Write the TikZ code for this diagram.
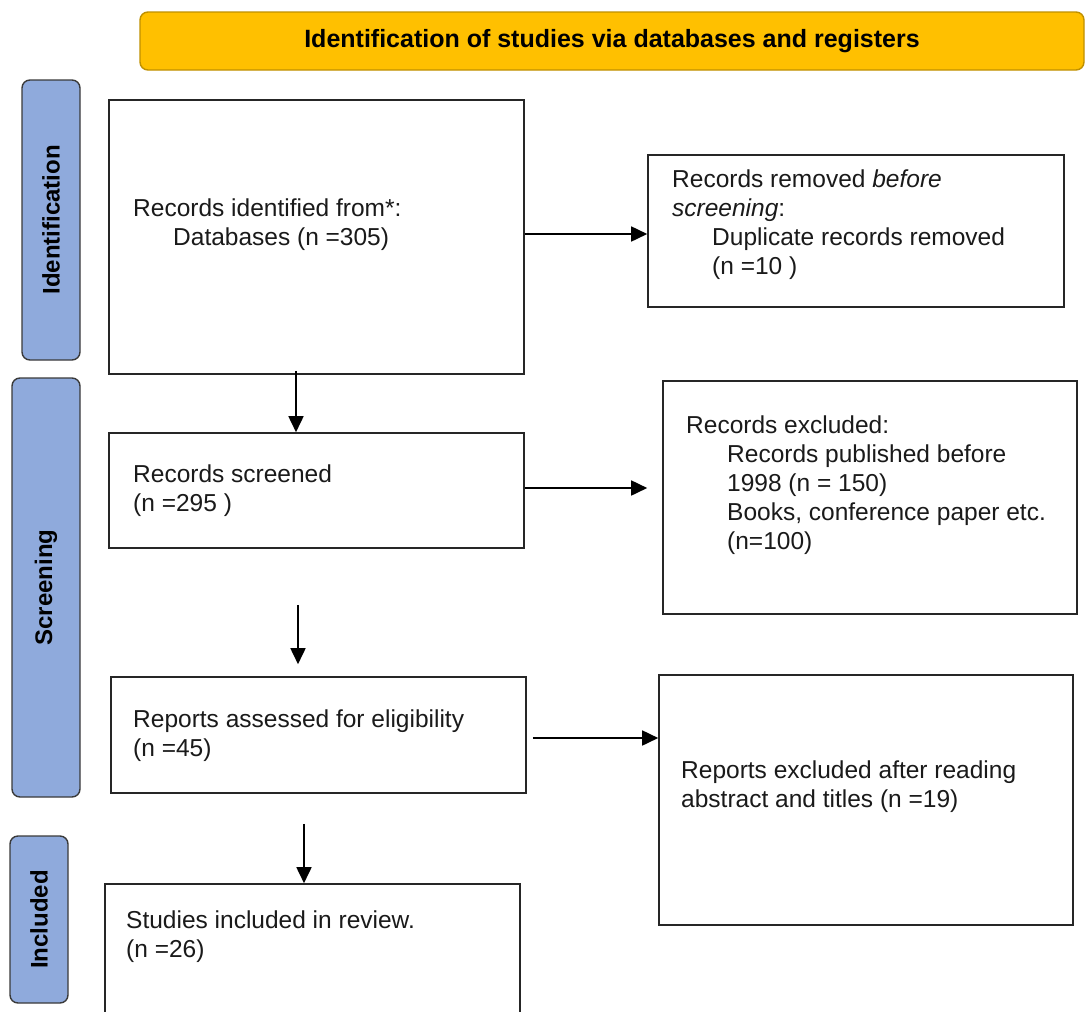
\documentclass[tikz,border=0pt]{standalone}
\usepackage{fontspec}
\setmainfont{Liberation Sans}
\usetikzlibrary{arrows.meta,calc}
\definecolor{bannerfill}{HTML}{FFC000}
\definecolor{bannerdraw}{HTML}{BF9000}
\definecolor{phasefill}{HTML}{8FAADC}
\definecolor{phasedraw}{HTML}{3A3A3A}
\definecolor{boxdraw}{HTML}{262626}
\definecolor{txtcol}{HTML}{1A1A1A}
\begin{document}
\begin{tikzpicture}[x=1pt,y=-1pt,
  box/.style={draw=boxdraw, line width=1.6pt, fill=white, inner sep=0pt},
  phase/.style={draw=phasedraw, line width=1.4pt, fill=phasefill, rounded corners=8pt,
    inner sep=0pt, font=\fontsize{24pt}{28pt}\selectfont\bfseries, text=black},
  banner/.style={draw=bannerdraw, line width=1.4pt, fill=bannerfill, rounded corners=8pt,
    inner sep=0pt, font=\fontsize{25pt}{29pt}\selectfont\bfseries, text=black},
  txt/.style={anchor=north west, inner sep=0pt, align=left, text=txtcol,
    font=\fontsize{24.5pt}{29pt}\selectfont},
  arr/.style={draw=black, line width=1.7pt, -{Triangle[length=16pt,width=15pt]}}
]
\useasboundingbox (0,0) rectangle (1087,1012);
\clip (0,0) rectangle (1087,1012);

% banner
\node[banner, minimum width=944pt, minimum height=58pt] (ban) at (612,41)
  {Identification of studies via databases and registers};

% phase labels
\node[phase, rotate=90, minimum width=280pt, minimum height=58pt] (pid) at (51,220) {Identification};
\node[phase, rotate=90, minimum width=419pt, minimum height=68pt] (psc) at (46,587.5) {Screening};
\node[phase, rotate=90, minimum width=167pt, minimum height=58pt] (pin) at (39,919.5) {Included};

% boxes
\node[box, minimum width=415pt, minimum height=274pt] (A) at (316.5,237) {};
\node[box, minimum width=416pt, minimum height=152pt] (B) at (856,231) {};
\node[box, minimum width=415pt, minimum height=115pt] (C) at (316.5,490.5) {};
\node[box, minimum width=414pt, minimum height=233pt] (D) at (870,497.5) {};
\node[box, minimum width=415pt, minimum height=116pt] (E) at (318.5,735) {};
\node[box, minimum width=414pt, minimum height=250pt] (F) at (866,800) {};
\node[box, minimum width=415pt, minimum height=156pt] (G) at (312.5,962) {};

% texts
\node[txt] (tA) at (133,198) {\rule{0pt}{18pt}Records identified from*:\\\hspace*{40pt}Databases (n =305)};
\node[txt] (tB) at (672,169) {\rule{0pt}{18pt}Records removed \textit{before}\\\textit{screening}:\\\hspace*{40pt}Duplicate records removed\\\hspace*{40pt}(n =10 )};
\node[txt] (tC) at (133,464) {\rule{0pt}{18pt}Records screened\\(n =295 )};
\node[txt] (tD) at (686,415) {\rule{0pt}{18pt}Records excluded:\\\hspace*{41pt}Records published before\\\hspace*{41pt}1998 (n = 150)\\\hspace*{41pt}Books, conference paper etc.\\\hspace*{41pt}(n=100)};
\node[txt] (tE) at (133,709) {\rule{0pt}{18pt}Reports assessed for eligibility\\(n =45)};
\node[txt] (tF) at (681,760) {\rule{0pt}{18pt}Reports excluded after reading\\abstract and titles (n =19)};
\node[txt] (tG) at (126,910) {\rule{0pt}{18pt}Studies included in review.\\(n =26)};

% arrows
\draw[arr] ([yshift=3pt]A.east) -- ([yshift=-3pt]B.west);
\draw[arr] ([yshift=2.5pt]C.east) -- ([xshift=-15pt,yshift=2.5pt]C.east -| D.west);
\draw[arr] ([xshift=6pt,yshift=-3pt]E.east) -- ([yshift=-3pt]E.east -| F.west);
\draw[arr] ([xshift=-20.5pt,yshift=4pt]A.south) -- ([xshift=-20.5pt]C.north);
\draw[arr] ([xshift=-18.5pt,yshift=-56pt]C.south) -- ([xshift=-20.5pt,yshift=12pt]E.north);
\draw[arr] ([xshift=-14.5pt,yshift=-30pt]E.south) -- ([xshift=-8.5pt]G.north);
\end{tikzpicture}
\end{document}
